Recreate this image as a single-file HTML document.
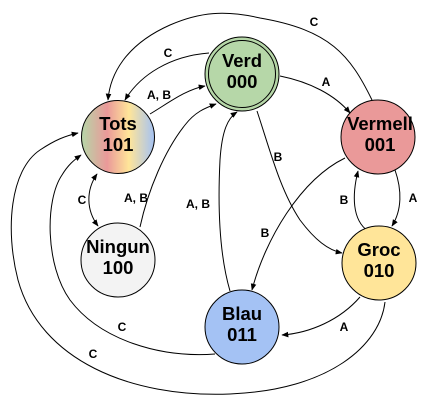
<!DOCTYPE html>
<html><head><style>body{margin:0;background:#fff}svg{display:block}text{font-family:"Liberation Sans",Arial,sans-serif;font-weight:bold}</style></head><body>
<svg width="436" height="406" viewBox="0 0 436 406" xmlns="http://www.w3.org/2000/svg">
<defs>
<marker id="a" viewBox="0 0 10 10" refX="9" refY="5" markerWidth="7" markerHeight="7" orient="auto-start-reverse"><path d="M0,1 L10,5 L0,9 z" fill="#000"/></marker>
<linearGradient id="g" x1="0" x2="1" y1="0" y2="0"><stop offset="0" stop-color="#b6d7a8"/><stop offset="0.35" stop-color="#ea9999"/><stop offset="0.65" stop-color="#ffe599"/><stop offset="1" stop-color="#a4c2f4"/></linearGradient>
</defs>
<g fill="none" stroke="#000" stroke-width="1">
<path d="M150,114 C170,102 185,90 205,86" marker-end="url(#a)"/>
<path d="M209,53 C170,56 140,75 125,100" marker-end="url(#a)"/>
<path d="M372,100 C350,55 330,30 260,18 C225,10 200,12 170,25 C125,45 110,75 108,100" marker-end="url(#a)"/>
<path d="M280,76 C310,82 335,95 350,113" marker-end="url(#a)"/>
<path d="M257,111 C270,150 280,190 300,220 C315,240 328,250 342,253" marker-end="url(#a)"/>
<path d="M345,158 C300,180 265,240 252,290" marker-end="url(#a)"/>
<path d="M395,170 C402,190 402,210 392,226" marker-end="url(#a)"/>
<path d="M368,231 C352,220 352,195 358,171" marker-end="url(#a)"/>
<path d="M360,297 C340,320 310,333 282,335" marker-end="url(#a)"/>
<path d="M230,291 C218,250 218,200 220,160 C222,130 228,118 237,112" marker-end="url(#a)"/>
<path d="M140,227 C148,190 165,150 185,125 C195,112 205,108 216,104" marker-end="url(#a)"/>
<path d="M97,174 C86,190 86,210 98,226" marker-start="url(#a)" marker-end="url(#a)"/>
<path d="M215,354 C160,358 100,340 70,300 C45,265 45,200 62,175 C68,165 74,160 81,155" marker-end="url(#a)"/>
<path d="M385,302 C380,345 330,390 230,394 C130,398 40,360 18,280 C5,230 10,170 40,150 C55,140 65,136 78,133" marker-end="url(#a)"/>
</g>
<g stroke="#000" stroke-width="1">
<circle cx="118" cy="137" r="36.5" fill="url(#g)"/>
<circle cx="242" cy="74" r="37" fill="#b6d7a8"/>
<circle cx="242" cy="74" r="33.5" fill="#b6d7a8"/>
<circle cx="378" cy="137" r="37" fill="#ea9999"/>
<circle cx="118" cy="260" r="37" fill="#f3f3f3"/>
<circle cx="379" cy="263" r="37" fill="#ffe599"/>
<circle cx="242" cy="327" r="37" fill="#a4c2f4"/>
</g>
<g font-size="18.5" text-anchor="middle" fill="#000">
<text x="118" y="130">Tots</text><text x="118" y="151">101</text>
<text x="242" y="67">Verd</text><text x="242" y="88">000</text>
<text x="380" y="130">Vermell</text><text x="380" y="151">001</text>
<text x="118" y="253">Ningun</text><text x="118" y="274">100</text>
<text x="379" y="256">Groc</text><text x="379" y="277">010</text>
<text x="242" y="320">Blau</text><text x="242" y="341">011</text>
</g>
<g font-size="12" text-anchor="middle" fill="#000">
<text x="159" y="99">A, B</text>
<text x="168" y="57">C</text>
<text x="314" y="26">C</text>
<text x="326" y="86">A</text>
<text x="278" y="161">B</text>
<text x="265" y="237">B</text>
<text x="413" y="202">A</text>
<text x="344" y="204">B</text>
<text x="344" y="331">A</text>
<text x="198" y="208">A, B</text>
<text x="136" y="202">A, B</text>
<text x="82" y="204">C</text>
<text x="122" y="331">C</text>
<text x="93" y="358">C</text>
</g>
</svg>
</body></html>
